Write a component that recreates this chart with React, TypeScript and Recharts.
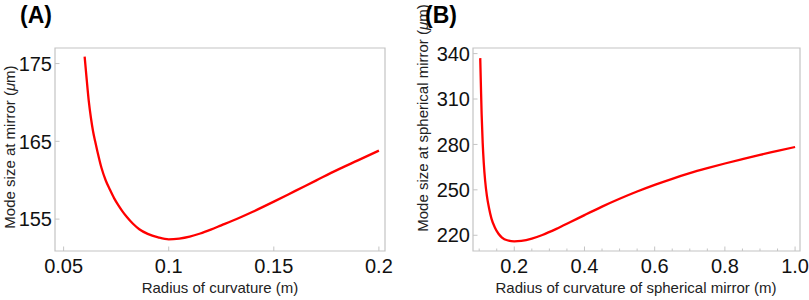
import { LineChart, Line, XAxis, YAxis, ReferenceArea, Label } from "recharts";

// Panel A: mode size at mirror vs radius of curvature
const radiusA = [0.06, 0.061, 0.062, 0.063, 0.064, 0.065, 0.066, 0.068, 0.07, 0.072, 0.074, 0.076, 0.078, 0.08, 0.083, 0.086, 0.09, 0.095, 0.1, 0.105, 0.11, 0.115, 0.12, 0.125, 0.13, 0.14, 0.15, 0.16, 0.17, 0.18, 0.19, 0.2];
const modeA = [175.9, 172.9, 170.1, 168.0, 166.3, 165.0, 163.8, 161.6, 160.0, 158.8, 157.7, 156.8, 156.0, 155.3, 154.4, 153.7, 153.1, 152.65, 152.4, 152.5, 152.75, 153.15, 153.65, 154.2, 154.75, 155.95, 157.25, 158.6, 159.95, 161.3, 162.55, 163.8];
const xTicksA = [0.05, 0.1, 0.15, 0.2];
const yTicksA = [155, 165, 175];

// Panel B: mode size at spherical mirror vs radius of curvature of spherical mirror
const radiusB = [0.103, 0.105, 0.107, 0.11, 0.113, 0.117, 0.122, 0.128, 0.135, 0.145, 0.155, 0.165, 0.18, 0.2, 0.22, 0.25, 0.28, 0.32, 0.36, 0.4, 0.45, 0.5, 0.55, 0.6, 0.65, 0.7, 0.75, 0.8, 0.85, 0.9, 0.95, 1.0];
const modeB = [337, 318, 300, 281, 268, 256, 246, 238, 231, 225, 221, 218.5, 216.7, 216, 216.3, 217.8, 220.2, 224.2, 228.7, 233.3, 238.9, 244.1, 248.9, 253.3, 257.3, 261.0, 264.3, 267.4, 270.3, 273.1, 275.7, 278.3];
const xMajorB = [0.2, 0.4, 0.6, 0.8, 1.0];
const xTicksB = [0.1, 0.15, 0.2, 0.25, 0.3, 0.35, 0.4, 0.45, 0.5, 0.55, 0.6, 0.65, 0.7, 0.75, 0.8, 0.85, 0.9, 0.95, 1.0];
const yTicksB = [220, 250, 280, 310, 340];

const dataA = radiusA.map((r, i) => ({ r, w: modeA[i] }));
const dataB = radiusB.map((r, i) => ({ r, w: modeB[i] }));

const FONT = "'Liberation Sans', Arial, Helvetica, sans-serif";
const FRAME = "#c4c4c4";

function makeXTick(majors: number[] | null, fmt: (v: number) => string) {
  return (props: any) => {
    const { x, y, payload } = props;
    const v = payload.value;
    const isMajor = !majors || majors.some((m) => Math.abs(m - v) < 1e-9);
    return (
      <g>
        <line x1={x} y1={y} x2={x} y2={y - (isMajor ? 4.5 : 2.5)} stroke={FRAME} strokeWidth={1} />
        {isMajor && (
          <text x={x} y={y + 21.5} textAnchor="middle" fontSize={20} fontFamily={FONT} fill="#111">
            {fmt(v)}
          </text>
        )}
      </g>
    );
  };
}

function YTick(props: any) {
  const { x, y, payload } = props;
  return (
    <g>
      <line x1={x} y1={y} x2={x + 4.5} y2={y} stroke={FRAME} strokeWidth={1} />
      <text x={x - 3} y={y} dy="0.36em" textAnchor="end" fontSize={20} fontFamily={FONT} fill="#111">
        {payload.value}
      </text>
    </g>
  );
}

function xTitle(text: string, cx: number) {
  return () => (
    <text x={cx} y={293} textAnchor="middle" fontSize={15} fontFamily={FONT} fill="#222">
      {text}
    </text>
  );
}

function yTitle(text: string, cx: number, cy: number) {
  return () => (
    <text
      x={cx}
      y={cy}
      transform={`rotate(-90, ${cx}, ${cy})`}
      textAnchor="middle"
      dominantBaseline="central"
      fontSize={15}
      fontFamily={FONT}
      fill="#222"
    >
      {text}
      <tspan fontStyle="italic">μ</tspan>m)
    </text>
  );
}

const domXA: [number, number] = [0.0459, 0.2029];
const domYA: [number, number] = [150.9, 177];
const domXB: [number, number] = [0.0824, 1.014];
const domYB: [number, number] = [209.6, 343.7];

export default function App() {
  return (
    <div style={{ position: "absolute", left: 0, top: 0, width: 809, height: 300, background: "#fff" }}>
      <div style={{ position: "absolute", left: 0, top: 0 }}>
        <LineChart width={400} height={300} data={dataA} margin={{ top: 48, right: 15, bottom: 0, left: 0 }}>
          <XAxis
            type="number"
            dataKey="r"
            domain={domXA}
            ticks={xTicksA}
            interval={0}
            allowDataOverflow
            height={49}
            axisLine={false}
            tickLine={false}
            tickSize={0}
            tickMargin={0}
            tick={makeXTick(null, (v) => String(v))}
            label={<Label content={xTitle("Radius of curvature (m)", 220)} />}
          />
          <YAxis
            type="number"
            dataKey="w"
            domain={domYA}
            ticks={yTicksA}
            interval={0}
            allowDataOverflow
            width={55}
            axisLine={false}
            tickLine={false}
            tickSize={0}
            tickMargin={0}
            tick={YTick}
            label={<Label content={yTitle("Mode size at mirror (", 9, 147)} />}
          />
          <ReferenceArea x1={domXA[0]} x2={domXA[1]} y1={domYA[0]} y2={domYA[1]} fill="none" stroke={FRAME} strokeWidth={1.2} />
          <Line type="monotone" dataKey="w" stroke="#ff0000" strokeWidth={2.3} dot={false} isAnimationActive={false} />
        </LineChart>
      </div>
      <div style={{ position: "absolute", left: 400, top: 0 }}>
        <LineChart width={409} height={300} data={dataB} margin={{ top: 48, right: 9, bottom: 0, left: 0 }}>
          <XAxis
            type="number"
            dataKey="r"
            domain={domXB}
            ticks={xTicksB}
            interval={0}
            allowDataOverflow
            height={49}
            axisLine={false}
            tickLine={false}
            tickSize={0}
            tickMargin={0}
            tick={makeXTick(xMajorB, (v) => v.toFixed(1))}
            label={<Label content={xTitle("Radius of curvature of spherical mirror (m)", 236)} />}
          />
          <YAxis
            type="number"
            dataKey="w"
            domain={domYB}
            ticks={yTicksB}
            interval={0}
            allowDataOverflow
            width={73}
            axisLine={false}
            tickLine={false}
            tickSize={0}
            tickMargin={0}
            tick={YTick}
            label={<Label content={yTitle("Mode size at spherical mirror (", 22, 118)} />}
          />
          <ReferenceArea x1={domXB[0]} x2={domXB[1]} y1={domYB[0]} y2={domYB[1]} fill="none" stroke={FRAME} strokeWidth={1.2} />
          <Line type="monotone" dataKey="w" stroke="#ff0000" strokeWidth={2.3} dot={false} isAnimationActive={false} />
        </LineChart>
      </div>
      <svg width={809} height={40} style={{ position: "absolute", left: 0, top: 0 }}>
        <text x={20} y={23} fontSize={23} fontWeight="bold" fontFamily={FONT} fill="#000">(A)</text>
        <text x={425} y={23} fontSize={23} fontWeight="bold" fontFamily={FONT} fill="#000">(B)</text>
      </svg>
    </div>
  );
}
